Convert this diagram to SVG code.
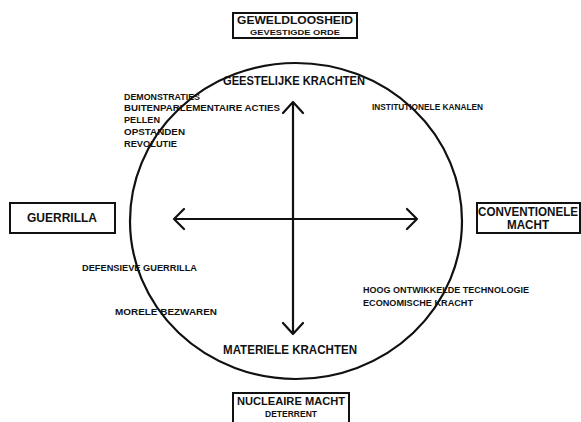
<svg xmlns="http://www.w3.org/2000/svg" width="581" height="422" viewBox="0 0 581 422">
<style>
.t{font-family:"Liberation Sans",Arial,sans-serif;fill:#111;font-weight:bold}
.big{font-size:12px}
.sm{font-size:9.5px}
.box{fill:#fff;stroke:#111;stroke-width:2}
.ln{fill:none;stroke:#111;stroke-width:2.2;stroke-linecap:round;stroke-linejoin:round}
</style>
<rect width="581" height="422" fill="#fff"/>
<g id="connectors">
<ellipse class="ln" cx="296" cy="221" rx="166" ry="158"/>
<path class="ln" d="M174 219 L417 219 M184 209 L174 219 L184 229 M407 209 L417 219 L407 229"/>
<path class="ln" d="M293 102 L293 334 M283 113 L293 102 L303 113 M283 323 L293 334 L303 323"/>
</g>
<g id="geweldloosheid">
<rect class="box" x="233" y="13" width="124" height="25"/>
<text class="t" x="295" y="24" font-size="11" text-anchor="middle" textLength="116" lengthAdjust="spacingAndGlyphs">GEWELDLOOSHEID</text>
<text class="t" x="295" y="35" font-size="8" text-anchor="middle" textLength="90" lengthAdjust="spacingAndGlyphs" font-weight="normal">GEVESTIGDE ORDE</text>
</g>
<g id="guerrilla">
<rect class="box" x="10" y="203" width="105" height="30"/>
<text class="t big" x="62" y="222" text-anchor="middle" textLength="70" lengthAdjust="spacingAndGlyphs">GUERRILLA</text>
</g>
<g id="conventionele">
<rect class="box" x="477" y="203" width="103" height="30"/>
<text class="t big" x="528" y="216" text-anchor="middle" textLength="100" lengthAdjust="spacingAndGlyphs">CONVENTIONELE</text>
<text class="t big" x="528" y="229" text-anchor="middle" textLength="42" lengthAdjust="spacingAndGlyphs">MACHT</text>
</g>
<g id="nucleaire">
<rect class="box" x="233" y="393" width="116" height="32"/>
<text class="t" x="291" y="405" font-size="11" text-anchor="middle" textLength="108" lengthAdjust="spacingAndGlyphs">NUCLEAIRE MACHT</text>
<text class="t" x="291" y="417" font-size="8.5" text-anchor="middle" textLength="52" lengthAdjust="spacingAndGlyphs" font-weight="normal">DETERRENT</text>
</g>
<g id="geestelijke">
<text class="t big" x="223" y="85" textLength="142" lengthAdjust="spacingAndGlyphs">GEESTELIJKE KRACHTEN</text>
</g>
<g id="materiele">
<text class="t big" x="223" y="354" textLength="134" lengthAdjust="spacingAndGlyphs">MATERIELE KRACHTEN</text>
</g>
<g id="left-list">
<text class="t sm" x="124" y="100" textLength="76" lengthAdjust="spacingAndGlyphs">DEMONSTRATIES</text>
<text class="t sm" x="124" y="111" textLength="156" lengthAdjust="spacingAndGlyphs">BUITENPARLEMENTAIRE ACTIES</text>
<text class="t sm" x="124" y="123" textLength="36" lengthAdjust="spacingAndGlyphs">PELLEN</text>
<text class="t sm" x="124" y="135" textLength="61" lengthAdjust="spacingAndGlyphs">OPSTANDEN</text>
<text class="t sm" x="124" y="147" textLength="53" lengthAdjust="spacingAndGlyphs">REVOLUTIE</text>
</g>
<g id="institutionele">
<text class="t sm" x="372" y="110" textLength="111" lengthAdjust="spacingAndGlyphs">INSTITUTIONELE KANALEN</text>
</g>
<g id="defensieve">
<text class="t sm" x="82" y="271" textLength="115" lengthAdjust="spacingAndGlyphs">DEFENSIEVE GUERRILLA</text>
</g>
<g id="morele">
<text class="t sm" x="115" y="315" textLength="102" lengthAdjust="spacingAndGlyphs">MORELE BEZWAREN</text>
</g>
<g id="technologie">
<text class="t sm" x="363" y="293" textLength="166" lengthAdjust="spacingAndGlyphs">HOOG ONTWIKKELDE TECHNOLOGIE</text>
<text class="t sm" x="363" y="306" textLength="110" lengthAdjust="spacingAndGlyphs">ECONOMISCHE KRACHT</text>
</g>
</svg>
